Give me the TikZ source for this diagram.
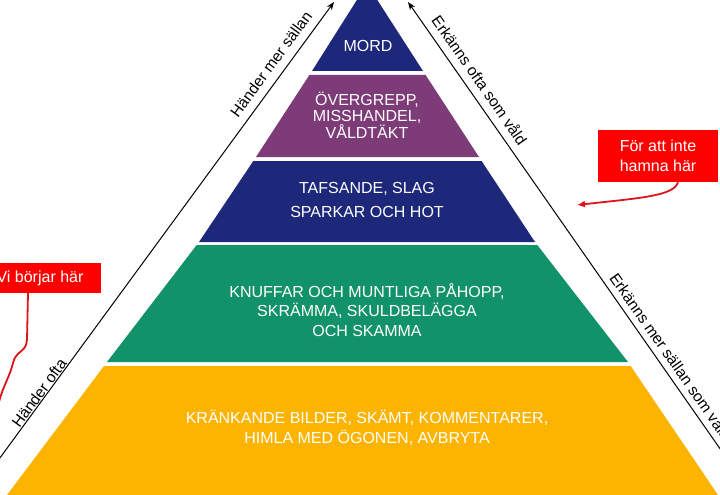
\documentclass[tikz,border=0pt]{standalone}
\usepackage{fontspec}
\setmainfont{Liberation Sans}
\usetikzlibrary{arrows.meta}
\definecolor{navyband}{RGB}{30,40,122}
\definecolor{plumband}{RGB}{125,60,120}
\definecolor{greenband}{RGB}{18,146,104}
\definecolor{amberband}{RGB}{252,180,0}
\definecolor{boxred}{RGB}{255,0,0}
\definecolor{linered}{RGB}{220,20,30}
\begin{document}
\begin{tikzpicture}[x=1pt,y=-1pt,
  bandtext/.style={text=white,font=\fontsize{16}{16.5}\selectfont,align=center,inner sep=0pt},
  sidelabel/.style={text=black,font=\fontsize{15.5}{16}\selectfont,inner sep=0pt},
  sidearrow/.style={draw=black,line width=1pt,-{Stealth[length=8pt,width=6pt]}},
  redbox/.style={fill=boxred,text=white,font=\fontsize{16}{16.5}\selectfont,align=center,inner sep=0pt},
  redline/.style={draw=linered,line width=1.8pt},
  redarrow/.style={redline,-{Latex[length=8pt,width=7pt]}}]
\useasboundingbox (0,0) rectangle (720,495);
\fill[white] (0,0) rectangle (720,495);
\clip (0,0) rectangle (720,495);

% pyramid bands
\fill[navyband] (367,-16) -- (423,71) -- (312,71) -- cycle;
\fill[plumband] (309.4,75) -- (425.6,75) -- (479,157) -- (256,157) -- cycle;
\fill[navyband] (253.3,161) -- (481.6,161) -- (535,242) -- (199,242) -- cycle;
\fill[greenband] (196.7,245) -- (537.3,245) -- (628,362) -- (107,362) -- cycle;
\fill[amberband] (104,366) -- (630.7,366) -- (718,495) -- (7,495) -- cycle;

% band texts
\node[bandtext] (mord) at (368,46) {MORD};
\node[bandtext] (overgrepp) at (367,115) {ÖVERGREPP,\\MISSHANDEL,\\VÅLDTÄKT};
\node[bandtext] (tafsande) at (367,200) {TAFSANDE, SLAG\\[7.5pt]SPARKAR OCH HOT};
\node[bandtext] (knuffar) at (367,310) {KNUFFAR OCH MUNTLIGA PÅHOPP,\\[3pt]SKRÄMMA, SKULDBELÄGGA\\[3pt]OCH SKAMMA};
\node[bandtext] (krankande) at (367,428) {KRÄNKANDE BILDER, SKÄMT, KOMMENTARER,\\[3.5pt]HIMLA MED ÖGONEN, AVBRYTA};

% side arrows
\coordinate (hl0) at (-6,466);
\coordinate (hl1) at (334,2);
\coordinate (er0) at (730,463);
\coordinate (er1) at (408,2);
\draw[sidearrow] (hl0) -- (hl1);
\draw[sidearrow] (er0) -- (er1);

\node[sidelabel,rotate=53.8] (hms) at (271,64) {Händer mer sällan};
\node[sidelabel,rotate=53.8] (ho) at (39,393) {Händer ofta};
\node[sidelabel,rotate=-55] (eosv) at (480,80) {Erkänns ofta som våld};
\node[sidelabel,rotate=-55] (emssv) at (671,356) {Erkänns mer sällan som våld};

% red call-outs
\node[redbox,minimum width=120,minimum height=52] (fa) at (658,156) {För att inte\\[3.5pt]hamna här};
\coordinate (fatip) at (577,205);
\draw[redarrow] ([xshift=20pt]fa.south) .. controls (674,196) and (640,198) .. (fatip);

\node[redbox,minimum width=122,minimum height=30] (vi) at (40,278) {Vi börjar här};
\coordinate (viend) at (-1,402);
\draw[redline] ([xshift=-12pt]vi.south) -- (27,340) .. controls (26,353) and (16,350) .. (13,363) .. controls (10,376) and (3,386) .. (viend);
\end{tikzpicture}
\end{document}
